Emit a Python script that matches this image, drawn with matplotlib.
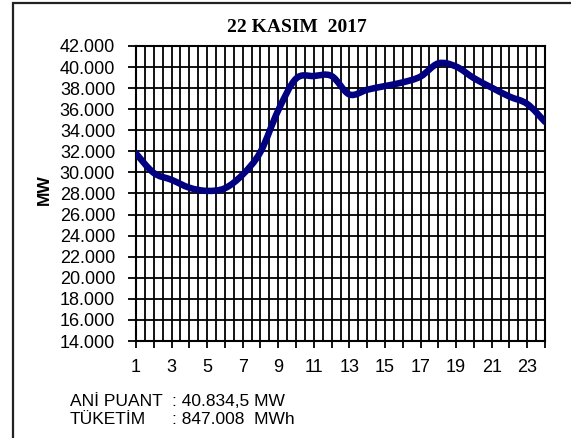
import numpy as np
import matplotlib.pyplot as plt
from matplotlib.patches import Rectangle, PathPatch
from matplotlib.path import Path

## hourly load values (MW)
hours = list(range(1, 25))
load = [31800, 29950, 29300, 28550, 28250, 28500, 29800, 31950,
        35900, 38900, 39150, 39150, 37400, 37850, 38200, 38550,
        39100, 40350, 40050, 38950, 38050, 37200, 36500, 34800]

title = '22 KASIM  2017'
y_ticks = list(range(14000, 42001, 2000))
peak_text = ': 40.834,5 MW'
cons_text = ': 847.008  MWh'

W, H = 571, 438
fig = plt.figure(figsize=(W / 100, H / 100), dpi=100)
ax = fig.add_axes([136 / W, 97 / H, 409 / W, 295 / H])

##outer frame (left and top edges only visible)
fig.patches.append(Rectangle((13 / W, -0.2), 1.5, 1.2 - 3 / H,
                             transform=fig.transFigure, fill=False,
                             edgecolor='#222222', lw=1.6))

##smoothed line like Excel: bezier segments through the data points
pts = np.column_stack([hours, load]).astype(float)
ext = np.vstack([pts[0], pts, pts[-1]])
verts = [tuple(pts[0])]
codes = [Path.MOVETO]
for i in range(len(pts) - 1):
    p0, p1, p2, p3 = ext[i], ext[i + 1], ext[i + 2], ext[i + 3]
    verts += [tuple(p1 + (p2 - p0) / 6), tuple(p2 - (p3 - p1) / 6), tuple(p2)]
    codes += [Path.CURVE4] * 3
ax.add_patch(PathPatch(Path(verts, codes), facecolor='none',
                       edgecolor='#000080', lw=4.7, joinstyle='round',
                       capstyle='round', zorder=5))

ax.set_xlim(1, 24)
ax.set_ylim(14000, 42000)

##ticks and labels
ax.set_xticks(hours)
ax.set_xticklabels([str(h) if h % 2 == 1 else '' for h in hours])
ax.set_xticks(np.arange(1.5, 24, 1.0), minor=True)
ax.set_yticks(y_ticks)
ax.set_yticklabels([f'{v:,}'.replace(',', '.') for v in y_ticks])

ax.tick_params(axis='x', which='major', direction='out', length=5,
               width=1.3, pad=8, labelsize=13)
ax.tick_params(axis='x', which='minor', length=0)
ax.tick_params(axis='y', direction='out', length=6, width=1.3, pad=9,
               labelsize=13)
for lab in ax.get_xticklabels() + ax.get_yticklabels():
    lab.set_fontfamily('Liberation Sans')

##dense black grid
ax.grid(True, which='major', axis='both', color='black', lw=1.3)
ax.grid(True, which='minor', axis='x', color='black', lw=1.3)
ax.set_axisbelow(True)
for s in ax.spines.values():
    s.set_linewidth(1.5)
    s.set_color('black')

fig.text(297 / W, 1 - 27 / H, title, ha='center', va='center',
         fontsize=14, fontweight='bold', family='Liberation Serif')
fig.text(44 / W, 1 - 190 / H, 'MW', ha='center', va='center',
         rotation=90, fontsize=12.5, fontweight='bold',
         family='Liberation Sans')

##summary text below the chart
fig.text(70 / W, 1 - 401 / H, 'ANİ PUANT', ha='left', va='center',
         fontsize=12.5, family='Liberation Sans')
fig.text(172 / W, 1 - 401 / H, peak_text, ha='left', va='center',
         fontsize=12.5, family='Liberation Sans')
fig.text(70 / W, 1 - 419 / H, 'TÜKETİM', ha='left', va='center',
         fontsize=12.5, family='Liberation Sans')
fig.text(172 / W, 1 - 419 / H, cons_text, ha='left', va='center',
         fontsize=12.5, family='Liberation Sans')

fig.savefig('out.png', dpi=100)
